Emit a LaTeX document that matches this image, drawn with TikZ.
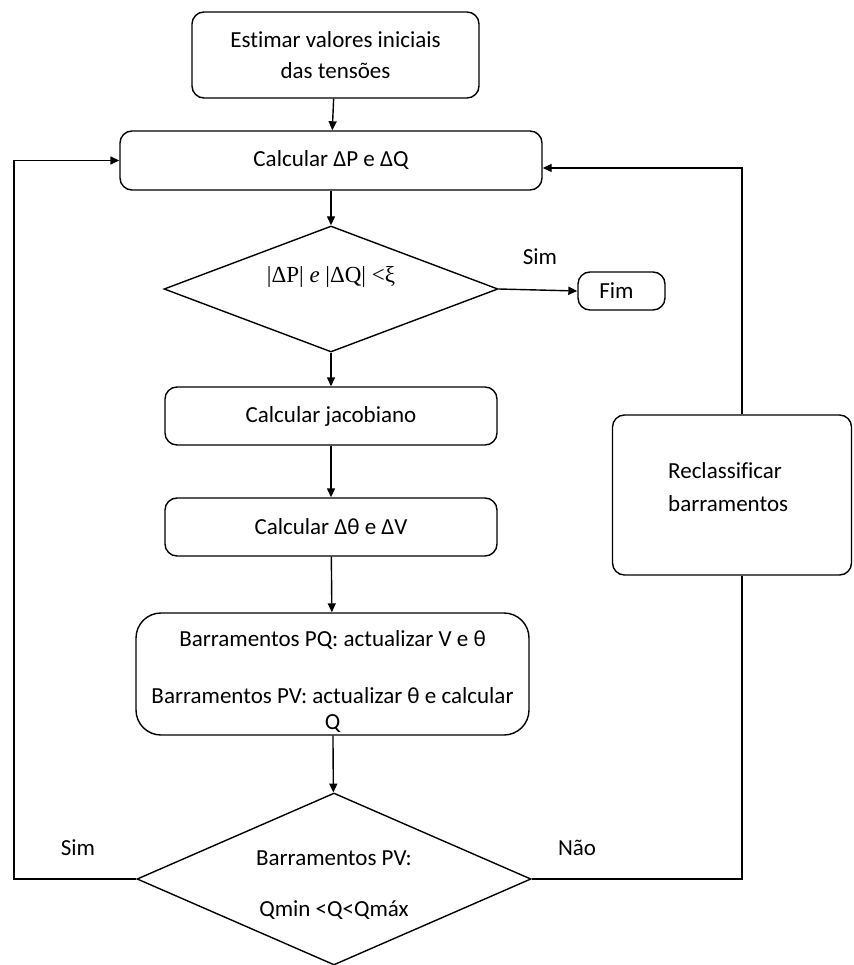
\documentclass[tikz,border=0pt]{standalone}
\usepackage{fontspec}
\setmainfont{Carlito}[Ligatures={NoCommon}]
\newfontfamily\condfont{Liberation Serif}
\usetikzlibrary{shapes.geometric,arrows.meta,positioning,calc}

\begin{document}
\begin{tikzpicture}[x=1pt, y=-1pt,
  txt/.style={font=\fontsize{23}{28}\selectfont, inner sep=0pt, align=center},
  box/.style={txt, draw, line width=1.4pt, rounded corners=12pt},
  cond/.style={draw, diamond, line width=1.4pt, inner sep=0pt},
  arr/.style={-{Triangle[length=9pt,width=8pt]}, line width=1.4pt},
  ln/.style={line width=1.4pt}
]
  \useasboundingbox (0,0) rectangle (853,965);
  % main column
  \node[box, minimum width=287, minimum height=86] (est) at (335.5,55) {Estimar valores iniciais\\[3pt]das tensões};
  \node[box, minimum width=422, minimum height=59] (calc) at (331,160.5) {Calcular ΔP e ΔQ};
  \node[cond, minimum width=334, minimum height=126] (conv) at (331,289) {};
  \node[txt, font=\condfont\fontsize{23}{28}\selectfont] (convtxt) at (331,277) {|ΔP| \textit{e} |ΔQ| <ξ};
  \node[box, minimum width=87, minimum height=38] (fim) at (621.5,291) {Fim\hspace{10pt}};
  \node[box, minimum width=332, minimum height=58] (jac) at (331,416) {Calcular jacobiano};
  \node[box, minimum width=332, minimum height=58] (delta) at (331,527) {Calcular Δθ e ΔV};
  \node[box, rounded corners=25pt, minimum width=393, minimum height=122] (upd) at (332.5,674) {};
  \node[txt] (updtxt) at (332.5,682)
    {Barramentos PQ: actualizar V e θ\\[29pt]Barramentos PV: actualizar θ e calcular\\[-2pt]Q};
  \node[cond, minimum width=394, minimum height=172] (lim) at (334,879) {};
  \node[txt] (limtxt1) at (334,858) {Barramentos PV:};
  \node[txt] (limtxt2) at (334,910) {Qmin <Q<Qmáx};
  % side box
  \node[box, minimum width=239, minimum height=160] (recl) at (732,495) {};
  \node[txt, align=left, anchor=west] (recltxt) at (668,487) {Reclassificar\\[5pt]barramentos};
  % labels
  \node[txt] (sim1) at (540,257) {Sim};
  \node[txt] (sim2) at (78,848) {Sim};
  \node[txt] (nao) at (577,848) {Não};
  % loop corners
  \coordinate (lft) at (14,879);
  \coordinate (rgt) at (742,879);
  \coordinate (rtop) at (742,168);
  % connectors
  \draw[arr] (est) -- (calc);
  \draw[arr] (calc) -- (conv);
  \draw[arr] (conv) -- (jac);
  \draw[arr] (jac) -- (delta);
  \draw[arr] (delta) -- (upd);
  \draw[arr] (upd) -- (lim);
  \draw[arr] (conv.east) -- (fim.west);
  \draw[arr] (lim.west) -- (lft) |- (calc.west);
  \draw[ln] (lim.east) -- (rgt) -- (rgt |- recl.south);
  \draw[arr] (rgt |- recl.north) -- (rtop) -- (rtop -| calc.east);
\end{tikzpicture}
\end{document}
